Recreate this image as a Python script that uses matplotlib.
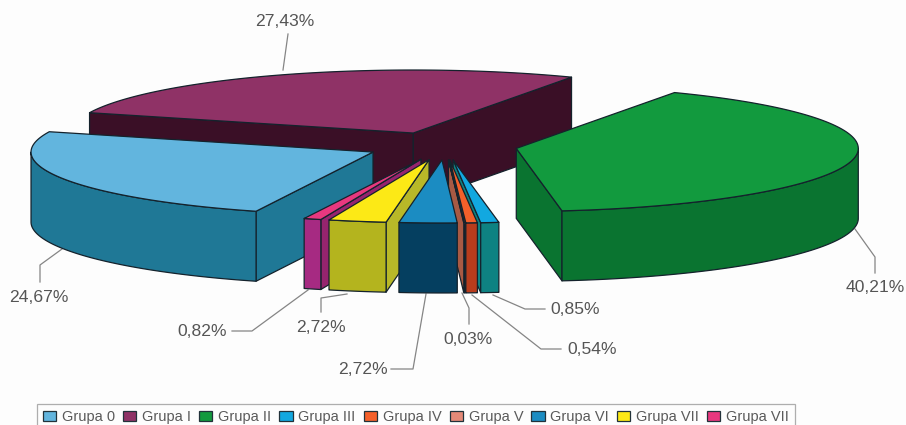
import numpy as np
import matplotlib
matplotlib.use("Agg")
import matplotlib.pyplot as plt
from matplotlib.patches import Polygon, Patch

plt.rcParams['font.family'] = ['Liberation Sans', 'DejaVu Sans']

groups = ['Grupa 0', 'Grupa I', 'Grupa II', 'Grupa III', 'Grupa IV', 'Grupa V', 'Grupa VI', 'Grupa VII', 'Grupa VII']
values = [24.67, 27.43, 40.21, 0.85, 0.54, 0.03, 2.72, 2.72, 0.82]
top_colors = ['#62B5DE', '#8F3266', '#129A3E', '#12A8E0', '#F4602A', '#E58A78', '#1B8CC2', '#FCE916', '#E8387F']
arc_colors = ['#1F7896', '#3A0F26', '#0A7430', '#0E8282', '#B83C1C', '#A85A44', '#053F60', '#B4B41E', '#A62A82']
rad_colors = ['#1F7896', '#3A0F26', '#0A7430', '#0E8282', '#B83C1C', '#A85A44', '#053F60', '#B8B828', '#96246E']
label_text = ['24,67%', '27,43%', '40,21%', '0,85%', '0,54%', '0,03%', '2,72%', '2,72%', '0,82%']
# label centre, then leader path from slice to label
label_pos = [(39, 297), (285, 21), (875, 287), (575, 309), (592, 349), (468, 339), (363, 370), (321, 327), (202, 332)]
leaders = [[(62, 249), (40, 265), (40, 282)], [(283, 70), (288, 34)], [(855, 229), (875, 257), (875, 273)],
           [(493, 295), (525, 309), (545, 309)], [(472, 295), (541, 349), (561, 349)],
           [(462, 293), (469, 308), (469, 324)], [(426, 294), (413, 369), (391, 369)],
           [(347, 294), (321, 298), (321, 312)], [(308, 290), (252, 331), (232, 331)]]

start_deg = 200.0
cx, cy = 441.5, 146.0
a, b = 342.0, 63.0
explode = 0.222
depth = 70.0
small_shift = 3.5   # the thin slices sit slightly right of the exploded positions
edge = '#14222c'

fig = plt.figure(figsize=(9.06, 4.25), dpi=100, facecolor='#FDFDFD')
ax = fig.add_axes([0, 0, 1, 1])
ax.set_xlim(0, 906)
ax.set_ylim(425, 0)
ax.axis('off')

angles = start_deg + np.concatenate([[0], np.cumsum(values)]) * 360.0 / 100.0


def pt(theta, ox, oy):
    t = np.radians(theta)
    return np.column_stack([ox + a * np.sin(t), oy - b * np.cos(t)])


def draw_slice(i):
    t0, t1 = angles[i], angles[i + 1]
    mid = (t0 + t1) / 2
    ox = cx + explode * a * np.sin(np.radians(mid)) + (small_shift if values[i] < 5 else 0)
    oy = cy - explode * b * np.cos(np.radians(mid))
    down = np.array([0, depth])
    apex = np.array([ox, oy])
    p0, p1 = pt(t0, ox, oy)[0], pt(t1, ox, oy)[0]
    # only radial faces that look toward the viewer
    if np.sin(np.radians(t0)) < 0:
        ax.add_patch(Polygon([apex, p0, p0 + down, apex + down], fc=rad_colors[i], ec=edge, lw=0.9, joinstyle='round'))
    if np.sin(np.radians(t1)) > 0:
        ax.add_patch(Polygon([apex, p1, p1 + down, apex + down], fc=rad_colors[i], ec=edge, lw=0.9, joinstyle='round'))
    # front-facing part of the rim: 90..270 degrees clockwise from the back
    for base in (0, 360):
        lo, hi = max(t0, 90 + base), min(t1, 270 + base)
        if hi > lo:
            th = np.linspace(lo, hi, 80)
            rim = pt(th, ox, oy)
            ax.add_patch(Polygon(np.vstack([rim, (rim + down)[::-1]]), fc=arc_colors[i], ec=edge, lw=0.9, joinstyle='round'))
    th = np.linspace(t0, t1, 160)
    ax.add_patch(Polygon(np.vstack([apex, pt(th, ox, oy)]), fc=top_colors[i], ec=edge, lw=0.9, joinstyle='round'))


for path in leaders:
    xs, ys = zip(*path)
    ax.plot(xs, ys, color='#858585', lw=0.9, zorder=0.5)

for i in [1, 0, 2, 8, 7, 3, 4, 5, 6]:
    draw_slice(i)

for txt, (x, y) in zip(label_text, label_pos):
    ax.text(x, y, txt, ha='center', va='center', fontsize=12.6, color='#555555')

handles = [Patch(facecolor=c, edgecolor='#22323a', lw=0.9) for c in top_colors]
leg = ax.legend(handles, groups, ncol=9, loc='upper left', bbox_to_anchor=(37 / 906, 1 - 404 / 425),
                fontsize=10.5, frameon=True, fancybox=False, edgecolor='#9A9A9A', facecolor='#FDFDFD',
                handlelength=0.9, handleheight=0.7, handletextpad=0.4, columnspacing=0.56,
                borderpad=0.4, borderaxespad=0, labelcolor='#5A5A5A')
leg.get_frame().set_linewidth(0.9)

fig.savefig('out.png', dpi=100, facecolor=fig.get_facecolor())
